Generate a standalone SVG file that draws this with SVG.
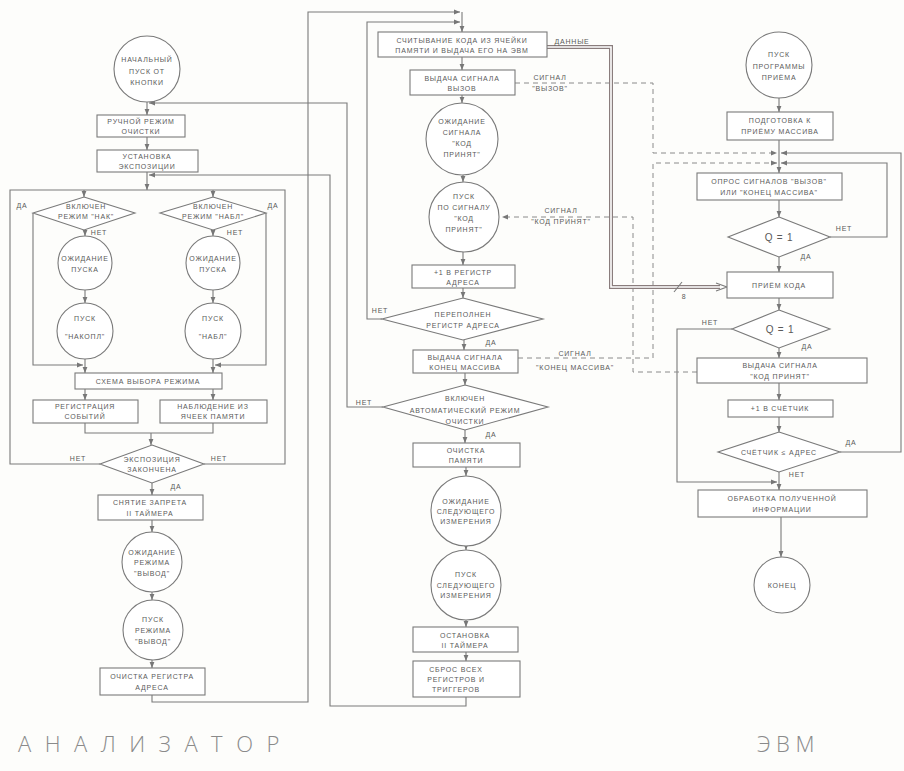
<svg xmlns="http://www.w3.org/2000/svg" width="904" height="771" viewBox="0 0 904 771">
<defs>
<marker id="a" viewBox="0 0 10 10" refX="10" refY="5" markerWidth="6" markerHeight="6" markerUnits="userSpaceOnUse" orient="auto"><path d="M0,1 L10,5 L0,9 z" fill="#777"/></marker>
<style>
.l{fill:none;stroke:#7a7a7a;stroke-width:1.1}
.s{fill:#fff;stroke:#7a7a7a;stroke-width:1.1}
.d{fill:none;stroke:#8a8a8a;stroke-width:1;stroke-dasharray:5 4}
.bo{fill:none;stroke:#8a7d7d;stroke-width:4}
.bi{fill:none;stroke:#fff;stroke-width:1.6}
text{font-family:"Liberation Sans",Arial,sans-serif;font-size:7px;fill:#5a5a5a;letter-spacing:0.8px;text-anchor:middle}
.q{font-size:10px}
.big{font-family:"Open Sans","DejaVu Sans",sans-serif;font-weight:300;font-size:22px;fill:#8a8a8a;text-anchor:start}
.b1{letter-spacing:13.5px}
.b2{letter-spacing:5.5px}
</style>
</defs>
<rect width="904" height="771" fill="#fdfdfb"/>
<g id="connectors">
<path class="l" d="M147,102 V115" marker-end="url(#a)"/>
<path class="l" d="M383,407 H347 V103 H149" marker-end="url(#a)"/>
<path class="l" d="M147,137 V150" marker-end="url(#a)"/>
<path class="l" d="M147,172 V190" marker-end="url(#a)"/>
<path class="l" d="M466,697 V706 H330 V175 H149" marker-end="url(#a)"/>
<path class="l" d="M100,464 H10 V190 H285 V464 H204"/>
<path class="l" d="M84,190 V197" marker-end="url(#a)"/>
<path class="l" d="M213,190 V197" marker-end="url(#a)"/>
<path class="l" d="M33,213 V365 H83" marker-end="url(#a)"/>
<path class="l" d="M266,213 V365 H215" marker-end="url(#a)"/>
<path class="l" d="M85,230 V236" marker-end="url(#a)"/>
<path class="l" d="M213,230 V236" marker-end="url(#a)"/>
<path class="l" d="M85,290 V303" marker-end="url(#a)"/>
<path class="l" d="M213,290 V303" marker-end="url(#a)"/>
<path class="l" d="M85,359 V373" marker-end="url(#a)"/>
<path class="l" d="M213,359 V373" marker-end="url(#a)"/>
<path class="l" d="M85,389 V400" marker-end="url(#a)"/>
<path class="l" d="M213,389 V400" marker-end="url(#a)"/>
<path class="l" d="M85,423 V433 H213 V423"/>
<path class="l" d="M151,433 V445" marker-end="url(#a)"/>
<path class="l" d="M152,483 V495" marker-end="url(#a)"/>
<path class="l" d="M152,520 V532" marker-end="url(#a)"/>
<path class="l" d="M152,592 V600" marker-end="url(#a)"/>
<path class="l" d="M152,660 V668" marker-end="url(#a)"/>
<path class="l" d="M152,695 V702 H308 V12 H460" marker-end="url(#a)"/>
<path class="l" d="M462,12 V32" marker-end="url(#a)"/>
<path class="l" d="M462,57 V70" marker-end="url(#a)"/>
<path class="l" d="M462,95 V103" marker-end="url(#a)"/>
<path class="l" d="M463,175 V182" marker-end="url(#a)"/>
<path class="l" d="M463,252 V265" marker-end="url(#a)"/>
<path class="l" d="M463,288 V298" marker-end="url(#a)"/>
<path class="l" d="M382,319 H367 V22 H460" marker-end="url(#a)"/>
<path class="l" d="M464,340 V350" marker-end="url(#a)"/>
<path class="l" d="M465,373 V385" marker-end="url(#a)"/>
<path class="l" d="M465,430 V443" marker-end="url(#a)"/>
<path class="l" d="M466,467 V476" marker-end="url(#a)"/>
<path class="l" d="M466,546 V550" marker-end="url(#a)"/>
<path class="l" d="M466,620 V627" marker-end="url(#a)"/>
<path class="l" d="M466,652 V661" marker-end="url(#a)"/>
<path class="l" d="M779,98 V112" marker-end="url(#a)"/>
<path class="l" d="M779,140 V173" marker-end="url(#a)"/>
<path class="l" d="M779,200 V217" marker-end="url(#a)"/>
<path class="l" d="M779,257 V272" marker-end="url(#a)"/>
<path class="l" d="M779,298 V310" marker-end="url(#a)"/>
<path class="l" d="M779,348 V358" marker-end="url(#a)"/>
<path class="l" d="M779,383 V400" marker-end="url(#a)"/>
<path class="l" d="M779,417 V432" marker-end="url(#a)"/>
<path class="l" d="M779,472 V490" marker-end="url(#a)"/>
<path class="l" d="M781,517 V557" marker-end="url(#a)"/>
<path class="l" d="M830,237 H887 V163 H781" marker-end="url(#a)"/>
<path class="l" d="M840,452 H901 V153 H781" marker-end="url(#a)"/>
<path class="l" d="M732,329 H677 V482 H777" marker-end="url(#a)"/>
<path class="d" d="M515,83 H653 V153 H777" marker-end="url(#a)"/>
<path class="d" d="M518,358 H653 V163 H777" marker-end="url(#a)"/>
<path class="d" d="M697,372 H633 V217 H502" marker-end="url(#a)"/>
<path class="bo" d="M547,47 H611 V287 H720"/>
<path class="bi" d="M547,47 H611 V287 H720"/>
<path class="l" d="M716,283 L727,287 L716,291" />
<path class="l" d="M674,292 L682,282"/>
<text x="684" y="299">8</text>
</g>
<g id="n_start"><circle class="s" cx="147" cy="69" r="33"/><text x="147" y="62">НАЧАЛЬНЫЙ</text><text x="147" y="74">ПУСК ОТ</text><text x="147" y="85">КНОПКИ</text></g>
<g id="n_manual"><rect class="s" x="97" y="115" width="88" height="22"/><text x="141" y="124">РУЧНОЙ РЕЖИМ</text><text x="141" y="134">ОЧИСТКИ</text></g>
<g id="n_expo"><rect class="s" x="97" y="150" width="101" height="22"/><text x="147" y="159">УСТАНОВКА</text><text x="147" y="169">ЭКСПОЗИЦИИ</text></g>
<g id="n_d_nak"><polygon class="s" points="84,197 135,213 84,230 33,213"/><text x="86" y="209">ВКЛЮЧЕН</text><text x="86" y="219">РЕЖИМ "НАК"</text></g>
<g id="n_d_nabl"><polygon class="s" points="213,197 266,213 213,230 160,213"/><text x="213" y="209">ВКЛЮЧЕН</text><text x="213" y="219">РЕЖИМ "НАБЛ"</text></g>
<g id="n_wait1"><circle class="s" cx="85" cy="263" r="27"/><text x="85" y="261">ОЖИДАНИЕ</text><text x="85" y="272">ПУСКА</text></g>
<g id="n_wait2"><circle class="s" cx="213" cy="263" r="27"/><text x="213" y="261">ОЖИДАНИЕ</text><text x="213" y="272">ПУСКА</text></g>
<g id="n_start1"><circle class="s" cx="85" cy="331" r="28"/><text x="85" y="321">ПУСК</text><text x="85" y="339">"НАКОПЛ"</text></g>
<g id="n_start2"><circle class="s" cx="213" cy="331" r="28"/><text x="213" y="321">ПУСК</text><text x="213" y="339">"НАБЛ"</text></g>
<g id="n_select"><rect class="s" x="75" y="373" width="147" height="16"/><text x="148" y="384">СХЕМА ВЫБОРА РЕЖИМА</text></g>
<g id="n_reg"><rect class="s" x="33" y="400" width="105" height="23"/><text x="85" y="409">РЕГИСТРАЦИЯ</text><text x="85" y="419">СОБЫТИЙ</text></g>
<g id="n_obs"><rect class="s" x="160" y="400" width="107" height="23"/><text x="213" y="409">НАБЛЮДЕНИЕ ИЗ</text><text x="213" y="419">ЯЧЕЕК ПАМЯТИ</text></g>
<g id="n_d_expo"><polygon class="s" points="152,445 204,464 152,483 100,464"/><text x="152" y="462">ЭКСПОЗИЦИЯ</text><text x="152" y="472">ЗАКОНЧЕНА</text></g>
<g id="n_unlock"><rect class="s" x="98" y="495" width="105" height="25"/><text x="150" y="505">СНЯТИЕ ЗАПРЕТА</text><text x="150" y="516">II ТАЙМЕРА</text></g>
<g id="n_waitout"><circle class="s" cx="152" cy="562" r="30"/><text x="152" y="555">ОЖИДАНИЕ</text><text x="152" y="565">РЕЖИМА</text><text x="152" y="576">"ВЫВОД"</text></g>
<g id="n_startout"><circle class="s" cx="153" cy="630" r="30"/><text x="153" y="622">ПУСК</text><text x="153" y="633">РЕЖИМА</text><text x="153" y="644">"ВЫВОД"</text></g>
<g id="n_clraddr"><rect class="s" x="100" y="668" width="105" height="27"/><text x="152" y="679">ОЧИСТКА РЕГИСТРА</text><text x="152" y="690">АДРЕСА</text></g>
<g id="n_read"><rect class="s" x="378" y="32" width="169" height="25"/><text x="462" y="43">СЧИТЫВАНИЕ КОДА ИЗ ЯЧЕЙКИ</text><text x="462" y="53">ПАМЯТИ И ВЫДАЧА ЕГО НА ЭВМ</text></g>
<g id="n_call"><rect class="s" x="410" y="70" width="105" height="25"/><text x="462" y="81">ВЫДАЧА СИГНАЛА</text><text x="462" y="91">ВЫЗОВ</text></g>
<g id="n_waitcode"><circle class="s" cx="462" cy="139" r="36"/><text x="462" y="124">ОЖИДАНИЕ</text><text x="462" y="135">СИГНАЛА</text><text x="462" y="146">"КОД</text><text x="462" y="157">ПРИНЯТ"</text></g>
<g id="n_startcode"><circle class="s" cx="464" cy="217" r="35"/><text x="464" y="199">ПУСК</text><text x="464" y="210">ПО СИГНАЛУ</text><text x="464" y="221">"КОД</text><text x="464" y="232">ПРИНЯТ"</text></g>
<g id="n_incaddr"><rect class="s" x="412" y="265" width="103" height="23"/><text x="463" y="275">+1 В РЕГИСТР</text><text x="463" y="285">АДРЕСА</text></g>
<g id="n_d_ovf"><polygon class="s" points="463,298 543,319 463,340 382,319"/><text x="463" y="317">ПЕРЕПОЛНЕН</text><text x="463" y="328">РЕГИСТР АДРЕСА</text></g>
<g id="n_end"><rect class="s" x="413" y="350" width="105" height="23"/><text x="465" y="360">ВЫДАЧА СИГНАЛА</text><text x="465" y="370">КОНЕЦ МАССИВА</text></g>
<g id="n_d_auto"><polygon class="s" points="465,385 548,407 465,430 383,407"/><text x="465" y="401">ВКЛЮЧЕН</text><text x="465" y="413">АВТОМАТИЧЕСКИЙ РЕЖИМ</text><text x="465" y="424">ОЧИСТКИ</text></g>
<g id="n_clrmem"><rect class="s" x="413" y="443" width="107" height="24"/><text x="466" y="453">ОЧИСТКА</text><text x="466" y="463">ПАМЯТИ</text></g>
<g id="n_waitnext"><circle class="s" cx="466" cy="511" r="35"/><text x="466" y="504">ОЖИДАНИЕ</text><text x="466" y="514">СЛЕДУЮЩЕГО</text><text x="466" y="524">ИЗМЕРЕНИЯ</text></g>
<g id="n_startnext"><circle class="s" cx="466" cy="585" r="35"/><text x="466" y="577">ПУСК</text><text x="466" y="588">СЛЕДУЮЩЕГО</text><text x="466" y="598">ИЗМЕРЕНИЯ</text></g>
<g id="n_stop"><rect class="s" x="413" y="627" width="105" height="25"/><text x="465" y="638">ОСТАНОВКА</text><text x="465" y="648">II ТАЙМЕРА</text></g>
<g id="n_reset"><rect class="s" x="413" y="661" width="107" height="36"/><text x="456" y="672">СБРОС ВСЕХ</text><text x="456" y="682">РЕГИСТРОВ И</text><text x="456" y="692">ТРИГГЕРОВ</text></g>
<g id="n_prog"><circle class="s" cx="779" cy="65" r="33"/><text x="779" y="57">ПУСК</text><text x="779" y="69">ПРОГРАММЫ</text><text x="779" y="80">ПРИЁМА</text></g>
<g id="n_prep"><rect class="s" x="727" y="112" width="106" height="28"/><text x="780" y="123">ПОДГОТОВКА К</text><text x="780" y="134">ПРИЁМУ МАССИВА</text></g>
<g id="n_poll"><rect class="s" x="697" y="173" width="145" height="27"/><text x="769" y="184">ОПРОС СИГНАЛОВ "ВЫЗОВ"</text><text x="769" y="195">ИЛИ "КОНЕЦ МАССИВА"</text></g>
<g id="n_q1"><polygon class="s" points="779,217 830,237 779,257 728,237"/><text class="q" x="779" y="241">Q = 1</text></g>
<g id="n_recv"><rect class="s" x="727" y="272" width="106" height="26"/><text x="779" y="288">ПРИЁМ КОДА</text></g>
<g id="n_q2"><polygon class="s" points="779,310 830,329 779,348 732,329"/><text class="q" x="780" y="333">Q = 1</text></g>
<g id="n_ack"><rect class="s" x="697" y="358" width="170" height="25"/><text x="780" y="368">ВЫДАЧА СИГНАЛА</text><text x="780" y="379">"КОД ПРИНЯТ"</text></g>
<g id="n_inccnt"><rect class="s" x="728" y="400" width="105" height="17"/><text x="780" y="411">+1 В СЧЁТЧИК</text></g>
<g id="n_d_cnt"><polygon class="s" points="779,432 840,452 779,472 718,452"/><text x="779" y="455">СЧЁТЧИК ≤ АДРЕС</text></g>
<g id="n_proc"><rect class="s" x="698" y="490" width="169" height="27"/><text x="782" y="501">ОБРАБОТКА ПОЛУЧЕННОЙ</text><text x="782" y="512">ИНФОРМАЦИИ</text></g>
<g id="n_fin"><circle class="s" cx="782" cy="585" r="28"/><text x="782" y="588">КОНЕЦ</text></g>
<g id="labels">
<text x="22" y="208">ДА</text><text x="273" y="208">ДА</text>
<text x="99" y="235">НЕТ</text><text x="235" y="235">НЕТ</text>
<text x="78" y="461">НЕТ</text><text x="219" y="461">НЕТ</text><text x="176" y="489">ДА</text>
<text x="572" y="44">ДАННЫЕ</text>
<text x="550" y="80">СИГНАЛ</text><text x="550" y="91">"ВЫЗОВ"</text>
<text x="561" y="213">СИГНАЛ</text><text x="561" y="224">"КОД ПРИНЯТ"</text>
<text x="380" y="313">НЕТ</text><text x="491" y="345">ДА</text>
<text x="575" y="356">СИГНАЛ</text><text x="575" y="370">"КОНЕЦ МАССИВА"</text>
<text x="364" y="405">НЕТ</text><text x="491" y="437">ДА</text>
<text x="844" y="231">НЕТ</text><text x="806" y="259">ДА</text>
<text x="710" y="325">НЕТ</text><text x="807" y="349">ДА</text>
<text x="851" y="445">ДА</text><text x="797" y="477">НЕТ</text>
<text class="big b1" x="18" y="752">АНАЛИЗАТОР</text>
<text class="big b2" x="757" y="752">ЭВМ</text>
</g>
</svg>
